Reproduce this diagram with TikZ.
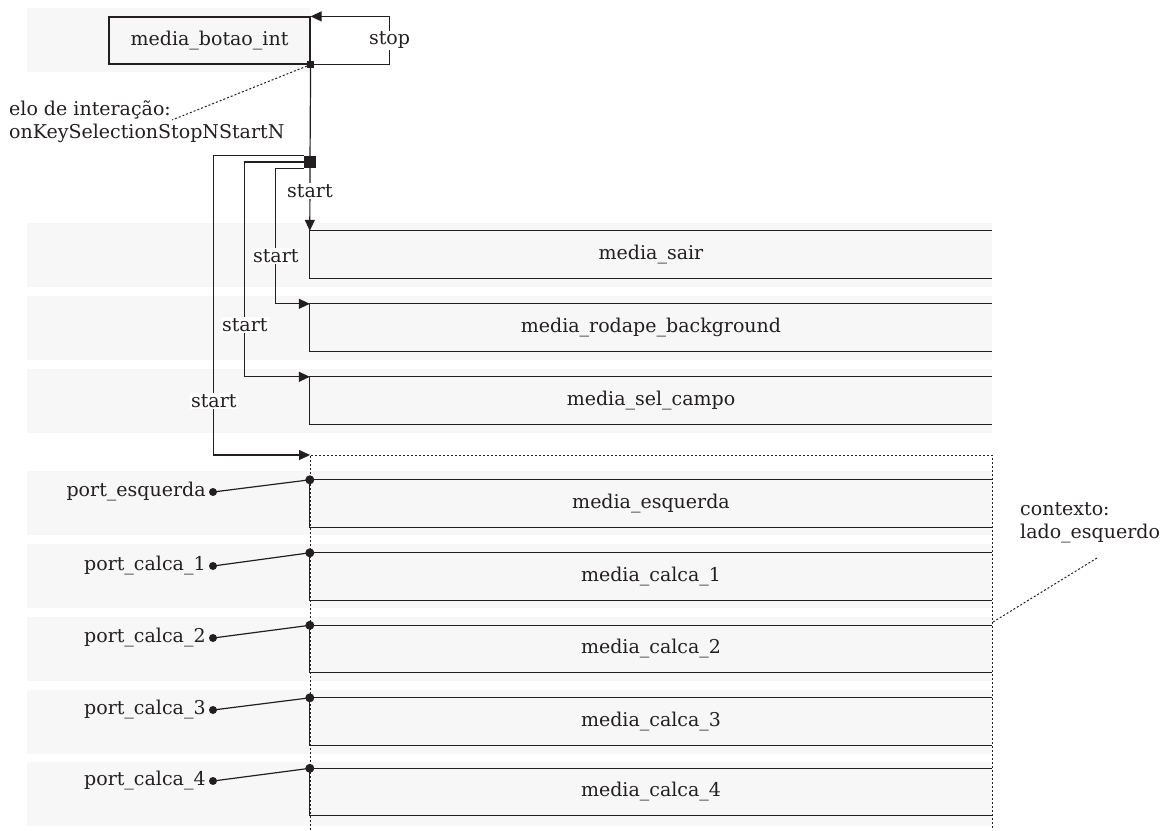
\documentclass[tikz,border=0pt]{standalone}
\usepackage{fontspec}
\setmainfont{DejaVu Serif}
\usetikzlibrary{arrows.meta,calc}
\definecolor{ink}{HTML}{231F20}
\definecolor{band}{HTML}{F7F7F7}
\begin{document}
\begin{tikzpicture}[x=1pt,y=-1pt,
  every node/.style={font=\fontsize{19}{23}\selectfont, text=ink},
  line/.style={draw=ink, line width=1.2pt},
  dots/.style={draw=ink, line width=1pt, dash pattern=on 2pt off 2pt},
  lane/.style={fill=band, draw=none},
  tip/.style={-{Triangle[length=11pt,width=10pt]}},
  tag/.style={fill=white, inner sep=1.5pt},
  media/.style={minimum width=682pt, minimum height=47pt, inner sep=0pt},
  port/.style={circle, fill=ink, minimum size=8pt, inner sep=0pt},
  jack/.style={circle, fill=ink, minimum size=9pt, inner sep=0pt},
]
\useasboundingbox (0,0) rectangle (1174,830);

% background lanes
\fill[lane] (27,8) rectangle (310,72);
\foreach \t in {223,296,369,471,544,617,690,762}
  \fill[lane] (27,\t) rectangle (992,\t+64);

% context region (dotted, open at the bottom)
\coordinate (ctxNW) at (310,455);
\coordinate (ctxNE) at (992,455);
\draw[dots] (310,830) -- (ctxNW) -- (ctxNE) -- (992,830);

% interaction button
\node[draw=ink, line width=1.2pt, minimum width=201pt, minimum height=47pt, inner sep=0pt]
  (botao) at (209.5,40.5) {media\_botao\_int};

% media boxes (open on the right)
\node[media] (sair)   at (651,254.5) {media\_sair};
\node[media] (rodape) at (651,327.5) {media\_rodape\_background};
\node[media] (campo)  at (651,400.5) {media\_sel\_campo};
\node[media] (esq)    at (651,503.5) {media\_esquerda};
\node[media] (c1)     at (651,576.5) {media\_calca\_1};
\node[media] (c2)     at (651,649)   {media\_calca\_2};
\node[media] (c3)     at (651,721.5) {media\_calca\_3};
\node[media] (c4)     at (651,792)   {media\_calca\_4};
\foreach \m in {sair,rodape,campo,esq,c1,c2,c3,c4}
  \draw[line] (\m.north east) -- (\m.north west) -- (\m.south west) -- (\m.south east);

% link hub
\node[fill=ink, minimum size=12pt, inner sep=0pt] (hub) at (310,162) {};
\draw[line] (botao.south east) -- (hub.center);
\node[fill=ink, minimum size=7pt, inner sep=0pt] (sq) at (botao.south east) {};

% stop action back onto the button
\draw[line,tip] (sq.center) -- ++(79,0) |- node[tag,pos=0.25] {stop} (botao.north east);

% start actions
\draw[line,tip] (hub.south) -- node[tag,pos=0.37] {start} (sair.north west);
\draw[line,tip] (hub.south west) -- ++(-28,0) |- node[tag,pos=0.325] {start} (rodape.north west);
\draw[line,tip] (hub.west) -- ++(-59,0) |- node[tag,pos=0.38] {start} (campo.north west);
\draw[line,tip] (hub.north west) -- ++(-90,0) |- node[tag,pos=0.41] {start} (ctxNW);

% link annotation
\node[align=left, anchor=west, inner sep=0pt] (elo) at (9,122)
  {elo de interação:\\onKeySelectionStopNStartN};
\coordinate (eloEnd) at (172,120);
\draw[dots] (sq.center) -- (eloEnd);

% context annotation
\node[align=left, anchor=west, inner sep=0pt] (ctx) at (1020,523)
  {contexto:\\lado\_esquerdo};
\coordinate (ctxEnd) at (1097,558);
\coordinate (ctxSide) at (993,622);
\draw[dots] (ctxSide) -- (ctxEnd);

% ports mapped onto the context's media
\foreach \m/\y/\txt in {esq/492/port\_esquerda, c1/566/port\_calca\_1,
    c2/638/port\_calca\_2, c3/710/port\_calca\_3, c4/781/port\_calca\_4}{
  \node[port, label={[inner sep=0pt, xshift=-3pt]left:\txt}] (p\m) at (213,\y) {};
  \draw[line] (p\m.center) -- (\m.north west);
  \node[jack] at (\m.north west) {};
}
\end{tikzpicture}
\end{document}
